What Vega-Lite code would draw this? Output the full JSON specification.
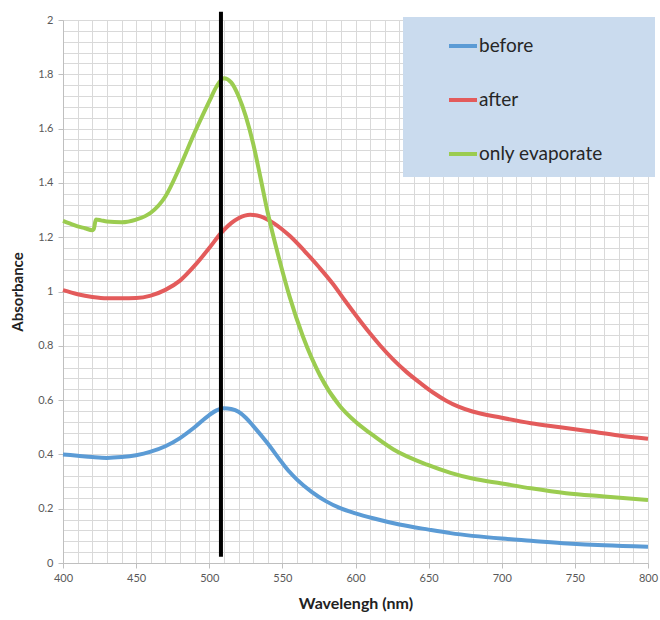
{
  "$schema": "https://vega.github.io/schema/vega-lite/v6.json",
  "width": 585,
  "height": 543,
  "autosize": {"type": "none"},
  "padding": {"left": 63, "top": 20, "right": 12, "bottom": 57},
  "background": "white",
  "config": {
    "view": {"stroke": null},
    "font": "Lato",
    "axis": {
      "domainColor": "#bfbfbf",
      "gridColor": "#d9d9d9",
      "gridWidth": 1,
      "tickColor": "#bfbfbf",
      "tickSize": 5,
      "labelColor": "#595959",
      "labelFontSize": 11,
      "labelFont": "Lato",
      "labelFlush": false,
      "titleFont": "Lato",
      "titleFontSize": 16,
      "titleFontWeight": "bold",
      "titleColor": "#222222"
    }
  },
  "datasets": {
    "spectra": [
      {"wavelength": 400, "absorbance": 0.40, "series": "before"},
      {"wavelength": 410, "absorbance": 0.395, "series": "before"},
      {"wavelength": 420, "absorbance": 0.39, "series": "before"},
      {"wavelength": 430, "absorbance": 0.387, "series": "before"},
      {"wavelength": 440, "absorbance": 0.39, "series": "before"},
      {"wavelength": 450, "absorbance": 0.397, "series": "before"},
      {"wavelength": 460, "absorbance": 0.41, "series": "before"},
      {"wavelength": 470, "absorbance": 0.43, "series": "before"},
      {"wavelength": 480, "absorbance": 0.46, "series": "before"},
      {"wavelength": 490, "absorbance": 0.50, "series": "before"},
      {"wavelength": 500, "absorbance": 0.545, "series": "before"},
      {"wavelength": 505, "absorbance": 0.562, "series": "before"},
      {"wavelength": 510, "absorbance": 0.57, "series": "before"},
      {"wavelength": 515, "absorbance": 0.567, "series": "before"},
      {"wavelength": 520, "absorbance": 0.557, "series": "before"},
      {"wavelength": 525, "absorbance": 0.535, "series": "before"},
      {"wavelength": 530, "absorbance": 0.505, "series": "before"},
      {"wavelength": 540, "absorbance": 0.44, "series": "before"},
      {"wavelength": 550, "absorbance": 0.368, "series": "before"},
      {"wavelength": 555, "absorbance": 0.335, "series": "before"},
      {"wavelength": 560, "absorbance": 0.307, "series": "before"},
      {"wavelength": 570, "absorbance": 0.262, "series": "before"},
      {"wavelength": 580, "absorbance": 0.227, "series": "before"},
      {"wavelength": 590, "absorbance": 0.201, "series": "before"},
      {"wavelength": 600, "absorbance": 0.183, "series": "before"},
      {"wavelength": 612, "absorbance": 0.165, "series": "before"},
      {"wavelength": 630, "absorbance": 0.142, "series": "before"},
      {"wavelength": 650, "absorbance": 0.123, "series": "before"},
      {"wavelength": 665, "absorbance": 0.11, "series": "before"},
      {"wavelength": 700, "absorbance": 0.09, "series": "before"},
      {"wavelength": 720, "absorbance": 0.082, "series": "before"},
      {"wavelength": 745, "absorbance": 0.072, "series": "before"},
      {"wavelength": 770, "absorbance": 0.065, "series": "before"},
      {"wavelength": 800, "absorbance": 0.06, "series": "before"},

      {"wavelength": 400, "absorbance": 1.005, "series": "after"},
      {"wavelength": 410, "absorbance": 0.99, "series": "after"},
      {"wavelength": 420, "absorbance": 0.98, "series": "after"},
      {"wavelength": 430, "absorbance": 0.975, "series": "after"},
      {"wavelength": 440, "absorbance": 0.975, "series": "after"},
      {"wavelength": 450, "absorbance": 0.976, "series": "after"},
      {"wavelength": 460, "absorbance": 0.985, "series": "after"},
      {"wavelength": 470, "absorbance": 1.006, "series": "after"},
      {"wavelength": 480, "absorbance": 1.04, "series": "after"},
      {"wavelength": 490, "absorbance": 1.095, "series": "after"},
      {"wavelength": 500, "absorbance": 1.16, "series": "after"},
      {"wavelength": 508, "absorbance": 1.215, "series": "after"},
      {"wavelength": 515, "absorbance": 1.252, "series": "after"},
      {"wavelength": 520, "absorbance": 1.27, "series": "after"},
      {"wavelength": 528, "absorbance": 1.283, "series": "after"},
      {"wavelength": 535, "absorbance": 1.277, "series": "after"},
      {"wavelength": 544, "absorbance": 1.252, "series": "after"},
      {"wavelength": 555, "absorbance": 1.205, "series": "after"},
      {"wavelength": 565, "absorbance": 1.15, "series": "after"},
      {"wavelength": 575, "absorbance": 1.09, "series": "after"},
      {"wavelength": 585, "absorbance": 1.025, "series": "after"},
      {"wavelength": 593, "absorbance": 0.965, "series": "after"},
      {"wavelength": 601, "absorbance": 0.907, "series": "after"},
      {"wavelength": 610, "absorbance": 0.845, "series": "after"},
      {"wavelength": 617, "absorbance": 0.8, "series": "after"},
      {"wavelength": 626, "absorbance": 0.748, "series": "after"},
      {"wavelength": 635, "absorbance": 0.703, "series": "after"},
      {"wavelength": 645, "absorbance": 0.66, "series": "after"},
      {"wavelength": 653, "absorbance": 0.628, "series": "after"},
      {"wavelength": 662, "absorbance": 0.598, "series": "after"},
      {"wavelength": 670, "absorbance": 0.577, "series": "after"},
      {"wavelength": 680, "absorbance": 0.558, "series": "after"},
      {"wavelength": 700, "absorbance": 0.535, "series": "after"},
      {"wavelength": 720, "absorbance": 0.515, "series": "after"},
      {"wavelength": 740, "absorbance": 0.5, "series": "after"},
      {"wavelength": 760, "absorbance": 0.485, "series": "after"},
      {"wavelength": 780, "absorbance": 0.47, "series": "after"},
      {"wavelength": 800, "absorbance": 0.458, "series": "after"},

      {"wavelength": 400, "absorbance": 1.26, "series": "only evaporate"},
      {"wavelength": 405, "absorbance": 1.25, "series": "only evaporate"},
      {"wavelength": 410, "absorbance": 1.24, "series": "only evaporate"},
      {"wavelength": 415, "absorbance": 1.233, "series": "only evaporate"},
      {"wavelength": 420, "absorbance": 1.226, "series": "only evaporate"},
      {"wavelength": 421, "absorbance": 1.23, "series": "only evaporate"},
      {"wavelength": 422.5, "absorbance": 1.265, "series": "only evaporate"},
      {"wavelength": 426, "absorbance": 1.262, "series": "only evaporate"},
      {"wavelength": 430, "absorbance": 1.258, "series": "only evaporate"},
      {"wavelength": 440, "absorbance": 1.255, "series": "only evaporate"},
      {"wavelength": 450, "absorbance": 1.265, "series": "only evaporate"},
      {"wavelength": 460, "absorbance": 1.29, "series": "only evaporate"},
      {"wavelength": 470, "absorbance": 1.35, "series": "only evaporate"},
      {"wavelength": 480, "absorbance": 1.46, "series": "only evaporate"},
      {"wavelength": 490, "absorbance": 1.585, "series": "only evaporate"},
      {"wavelength": 500, "absorbance": 1.70, "series": "only evaporate"},
      {"wavelength": 505, "absorbance": 1.755, "series": "only evaporate"},
      {"wavelength": 510, "absorbance": 1.785, "series": "only evaporate"},
      {"wavelength": 515, "absorbance": 1.77, "series": "only evaporate"},
      {"wavelength": 520, "absorbance": 1.72, "series": "only evaporate"},
      {"wavelength": 525, "absorbance": 1.645, "series": "only evaporate"},
      {"wavelength": 530, "absorbance": 1.545, "series": "only evaporate"},
      {"wavelength": 535, "absorbance": 1.42, "series": "only evaporate"},
      {"wavelength": 540, "absorbance": 1.29, "series": "only evaporate"},
      {"wavelength": 548, "absorbance": 1.116, "series": "only evaporate"},
      {"wavelength": 555, "absorbance": 0.98, "series": "only evaporate"},
      {"wavelength": 564, "absorbance": 0.835, "series": "only evaporate"},
      {"wavelength": 576, "absorbance": 0.688, "series": "only evaporate"},
      {"wavelength": 589, "absorbance": 0.58, "series": "only evaporate"},
      {"wavelength": 600, "absorbance": 0.52, "series": "only evaporate"},
      {"wavelength": 610, "absorbance": 0.478, "series": "only evaporate"},
      {"wavelength": 626, "absorbance": 0.418, "series": "only evaporate"},
      {"wavelength": 649, "absorbance": 0.362, "series": "only evaporate"},
      {"wavelength": 665, "absorbance": 0.332, "series": "only evaporate"},
      {"wavelength": 680, "absorbance": 0.311, "series": "only evaporate"},
      {"wavelength": 700, "absorbance": 0.293, "series": "only evaporate"},
      {"wavelength": 720, "absorbance": 0.275, "series": "only evaporate"},
      {"wavelength": 744, "absorbance": 0.257, "series": "only evaporate"},
      {"wavelength": 770, "absorbance": 0.245, "series": "only evaporate"},
      {"wavelength": 800, "absorbance": 0.232, "series": "only evaporate"}
    ],
    "marker": [
      {"wavelength": 508, "absorbance": 0.023, "high": 2.03}
    ]
  },
  "encoding": {
    "x": {
      "field": "wavelength",
      "type": "quantitative",
      "scale": {"domain": [400, 800], "nice": false},
      "axis": {
        "title": "Wavelengh (nm)",
        "values": [400,410,420,430,440,450,460,470,480,490,500,510,520,530,540,550,560,570,580,590,600,610,620,630,640,650,660,670,680,690,700,710,720,730,740,750,760,770,780,790,800],
        "labelExpr": "datum.value % 50 === 0 ? datum.label : ''",
        "labelOverlap": false,
        "tickOpacity": {"condition": {"test": "datum.value % 50 === 0", "value": 1}, "value": 0},
        "labelPadding": 4,
        "titlePadding": 12
      }
    },
    "y": {
      "field": "absorbance",
      "type": "quantitative",
      "scale": {"domain": [0, 2], "nice": false},
      "axis": {
        "title": "Absorbance",
        "values": [0,0.04,0.08,0.12,0.16,0.2,0.24,0.28,0.32,0.36,0.4,0.44,0.48,0.52,0.56,0.6,0.64,0.68,0.72,0.76,0.8,0.84,0.88,0.92,0.96,1,1.04,1.08,1.12,1.16,1.2,1.24,1.28,1.32,1.36,1.4,1.44,1.48,1.52,1.56,1.6,1.64,1.68,1.72,1.76,1.8,1.84,1.88,1.92,1.96,2],
        "labelExpr": "abs(datum.value*5 - round(datum.value*5)) < 0.001 ? format(datum.value, '.1~f') : ''",
        "labelOverlap": false,
        "tickOpacity": {"condition": {"test": "abs(datum.value*5 - round(datum.value*5)) < 0.001", "value": 1}, "value": 0},
        "labelPadding": 5,
        "titlePadding": 12,
        "titleFontSize": 15
      }
    }
  },
  "layer": [
    {
      "data": {"name": "spectra"},
      "mark": {"type": "line", "strokeWidth": 4, "interpolate": "monotone"},
      "encoding": {
        "color": {
          "field": "series",
          "type": "nominal",
          "scale": {
            "domain": ["before", "after", "only evaporate"],
            "range": ["#5b9bd5", "#e35b5b", "#9bcc50"]
          },
          "legend": {
            "title": "mm",
            "titleOrient": "right",
            "titleFontSize": 20,
            "titleOpacity": 0,
            "titlePadding": 5,
            "orient": "none",
            "legendX": 340,
            "legendY": -3,
            "fillColor": "#cadbee",
            "padding": 13,
            "rowPadding": 28,
            "symbolType": "stroke",
            "symbolSize": 784,
            "symbolStrokeWidth": 4,
            "symbolOffset": 31,
            "labelOffset": 0,
            "labelFontSize": 19,
            "labelFont": "Lato",
            "labelColor": "#262626"
          }
        }
      }
    },
    {
      "data": {"name": "marker"},
      "mark": {"type": "rule", "strokeWidth": 4, "color": "#000000"},
      "encoding": {
        "y2": {"field": "high"}
      }
    }
  ]
}
